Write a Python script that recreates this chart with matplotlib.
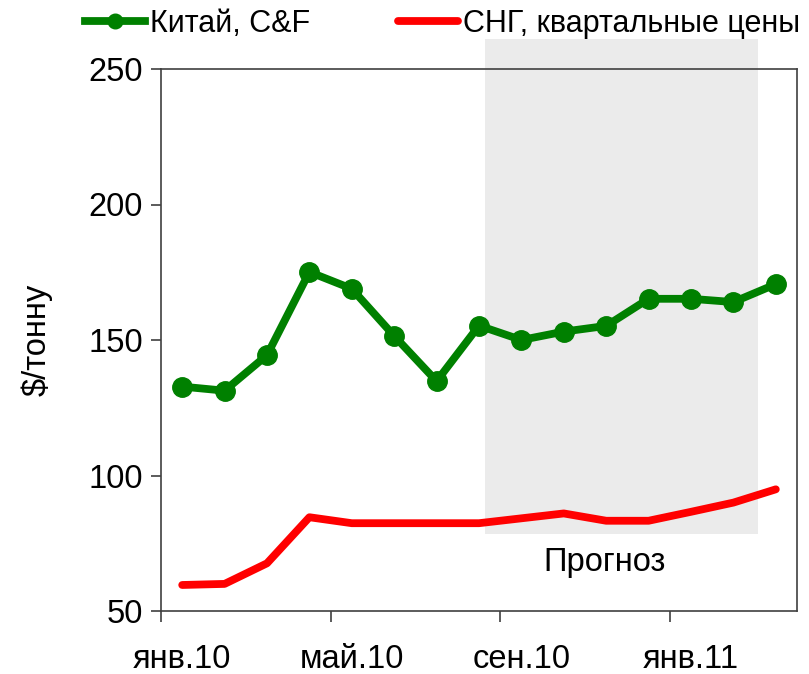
"""Coal prices: China C&F vs CIS quarterly prices, Jan 2010 - Mar 2011, with forecast area."""

import matplotlib

matplotlib.use("Agg")
import matplotlib.pyplot as plt
from matplotlib.patches import Rectangle

plt.rcParams["font.family"] = ["Liberation Sans", "DejaVu Sans"]

# --- data -------------------------------------------------------------------
months = ["янв.10", "фев.10", "мар.10", "апр.10", "май.10", "июн.10", "июл.10",
          "авг.10", "сен.10", "окт.10", "ноя.10", "дек.10", "янв.11", "фев.11",
          "мар.11"]
china_cf = [132.8, 131.3, 144.4, 175.1, 168.9, 151.5, 134.8, 155.3, 150.0,
            153.1, 155.2, 165.2, 165.2, 164.0, 170.6]
cis_quarterly = [59.6, 60.0, 67.6, 84.6, 82.4, 82.4, 82.4, 82.4, 84.2,
                 86.0, 83.3, 83.3, 86.6, 90.0, 94.9]
series_labels = ["Китай, C&F", "СНГ, квартальные цены"]
y_ticks = [50, 100, 150, 200, 250]
y_label = "$/тонну"
forecast_label = "Прогноз"

GREEN = "#008000"
RED = "#ff0000"
SHADE = "#ebebeb"
SPINE = "#404040"
FS = 23.5

x = list(range(len(months)))

fig = plt.figure(figsize=(8.09, 6.74), dpi=100)
ax = fig.add_axes([161 / 809, 1 - 611 / 674, 636 / 809, 542 / 674])

# forecast shading (extends above the plot area, as in the original)
ax.add_patch(Rectangle((7.14, 78.4), 13.57 - 7.14, 261 - 78.4,
                       facecolor=SHADE, edgecolor="none", zorder=0.5, clip_on=False))
ax.text(9.95, 68, forecast_label, ha="center", va="center", fontsize=FS)

red_line, = ax.plot(x, cis_quarterly, color=RED, lw=5.6,
                    solid_capstyle="round", solid_joinstyle="round", zorder=2)
green_line, = ax.plot(x, china_cf, color=GREEN, lw=5.6, marker="o", ms=14,
                      solid_joinstyle="round", zorder=3)

ax.set_xlim(-0.5, 14.5)
ax.set_ylim(50, 250)
ax.set_yticks(y_ticks)
ax.set_yticklabels([str(v) for v in y_ticks], fontsize=FS)
ax.set_ylabel(y_label, fontsize=FS, labelpad=26)

# tick marks between categories, labels centred on every 4th month
ax.set_xticks([-0.5, 3.5, 7.5, 11.5])
ax.set_xticklabels([])
ax.set_xticks(x[::4], minor=True)
ax.set_xticklabels(months[::4], minor=True, fontsize=FS)
ax.tick_params(axis="x", which="major", length=8, width=1.2, color=SPINE, direction="out")
ax.tick_params(axis="x", which="minor", length=0, pad=24)
ax.tick_params(axis="y", length=7, width=1.2, color=SPINE, direction="out", pad=6)

for side in ("left", "right", "top", "bottom"):
    ax.spines[side].set_color(SPINE)
    ax.spines[side].set_linewidth(1.2)
    ax.spines[side].set_zorder(4)

fig.legend([green_line, red_line], series_labels, loc="center",
           bbox_to_anchor=(0.547, 0.965), ncol=2, frameon=False, fontsize=22,
           handlelength=1.96, handletextpad=0.16, columnspacing=2.9,
           markerscale=0.75, borderaxespad=0)

fig.savefig("out.png", dpi=100)
